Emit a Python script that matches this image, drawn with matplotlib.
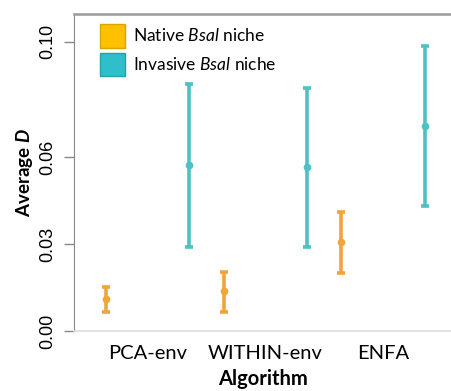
import numpy as np
from matplotlib import pyplot as plt
from matplotlib.patches import Patch


#values (average D with lower / upper bounds):
algorithms    = ['PCA-env', 'WITHIN-env', 'ENFA']
native_mean   = [0.0110, 0.0138, 0.0307]
native_low    = [0.0067, 0.0067, 0.0202]
native_high   = [0.0151, 0.0205, 0.0411]
invasive_mean = [0.0573, 0.0567, 0.0708]
invasive_low  = [0.0291, 0.0291, 0.0432]
invasive_high = [0.0854, 0.0841, 0.0985]
yticks        = [0.00, 0.03, 0.06, 0.10]

c_native    = '#f0a43a'
c_invasive  = '#4fc0c4'
c_native_l  = '#ffc000'
c_invasive_l= '#2fbfcb'

x    = np.arange(len(algorithms))
dx   = 0.353

#italic / bold-italic pieces of labels in the same face as the text
plt.rcParams['mathtext.fontset'] = 'custom'
plt.rcParams['mathtext.rm'] = 'Lato'
plt.rcParams['mathtext.it'] = 'Lato:italic'
plt.rcParams['mathtext.bf'] = 'Lato:bold:italic'


def bounds(mean, low, high):
    mean = np.asarray(mean)
    return [mean - np.asarray(low), np.asarray(high) - mean]



#plot:
plt.close('all')
fig = plt.figure( figsize=(4.52,3.91), dpi=100 )
ax  = fig.add_axes([0.1637, 0.1535, 0.8363, 0.8105])

kw = dict(fmt='o', ms=4.5, capsize=3.2, elinewidth=2.6, capthick=2.6)
ax.errorbar(x-dx, native_mean, yerr=bounds(native_mean, native_low, native_high), color=c_native, **kw)
ax.errorbar(x+dx, invasive_mean, yerr=bounds(invasive_mean, invasive_low, invasive_high), color=c_invasive, **kw)

ax.set_xlim(-0.624, 2.586)
ax.set_ylim(0, 0.1096)

ax.set_yticks(yticks)
ax.set_yticklabels(['%.2f' % v for v in yticks], rotation=90, va='center',
                   family='Liberation Sans', size=13)
ax.tick_params(axis='y', length=7, width=1, color='#888888', pad=6)
ax.set_xticks(x)
ax.set_xticklabels(algorithms, family='Lato', size=14.5)
ax.tick_params(axis='x', length=0, pad=10)

ax.set_xlabel('Algorithm', family='Lato', weight='bold', size=14.5, labelpad=5)
ax.set_ylabel('Average $\\mathbf{D}$', family='Lato', weight='bold', size=13.5, labelpad=3)

ax.spines['right'].set_visible(False)
ax.spines['left'].set_color('#888888')
ax.spines['top'].set_color('#999999')
ax.spines['top'].set_linewidth(1.8)
ax.spines['bottom'].set_color('#dddddd')
ax.spines['bottom'].set_linewidth(1.2)

handles = [Patch(facecolor=c_native_l, edgecolor='#d9a300', label='Native $\\mathit{Bsal}$ niche'),
           Patch(facecolor=c_invasive_l, edgecolor='#23a0ab', label='Invasive $\\mathit{Bsal}$ niche')]
ax.legend(handles=handles, loc='upper left', bbox_to_anchor=(26/378, 1-10/317),
          frameon=False, borderaxespad=0, borderpad=0, handlelength=1.45, handleheight=1.7,
          handletextpad=0.45, labelspacing=0.3, prop=dict(family='Lato', size=12.5))

plt.savefig('out.png', dpi=100)
